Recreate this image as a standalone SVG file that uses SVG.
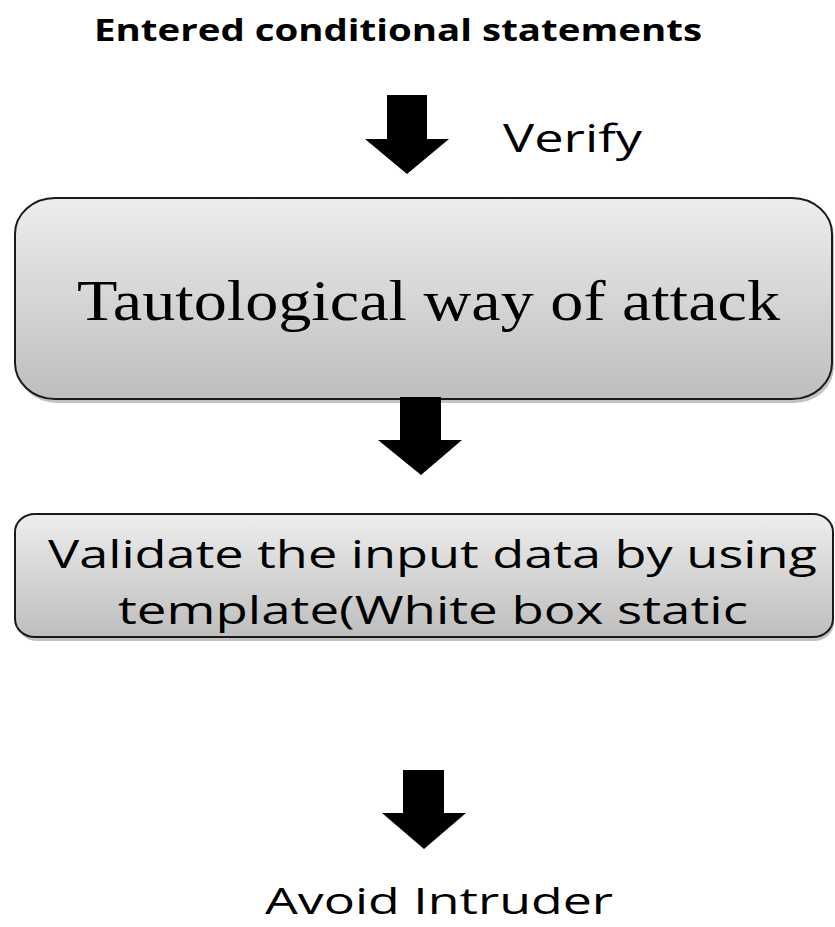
<svg xmlns="http://www.w3.org/2000/svg" width="835" height="927" viewBox="0 0 835 927">
  <style>
    .sans { font-family: "Open Sans", "Noto Sans", "DejaVu Sans", sans-serif; fill: #000; }
    .serif { font-family: "Liberation Serif", "DejaVu Serif", serif; fill: #000; }
    .box { fill: url(#grad); stroke: #1a1a1a; stroke-width: 2; }
    .shadow { fill: #9a9a9a; opacity: 0.6; }
    .arrow { fill: #000; }
  </style>
  <defs>
    <linearGradient id="grad" x1="0" y1="0" x2="0" y2="1">
      <stop offset="0" stop-color="#ededed"/>
      <stop offset="1" stop-color="#bebebe"/>
    </linearGradient>
    <clipPath id="clip2">
      <rect x="16" y="514" width="817" height="123" rx="20" ry="18"/>
    </clipPath>
  </defs>
  <rect width="835" height="927" fill="#fff"/>

  <g id="title">
    <text class="sans" x="94" y="41" font-size="30" font-weight="bold" textLength="608" lengthAdjust="spacingAndGlyphs">Entered conditional statements</text>
  </g>

  <g id="node-tautological">
    <rect class="shadow" x="17" y="201" width="817" height="202" rx="40" ry="36"/>
    <rect class="box" x="15" y="198" width="817" height="201" rx="40" ry="36"/>
    <text class="serif" x="77" y="320" font-size="57" textLength="703" lengthAdjust="spacingAndGlyphs">Tautological way of attack</text>
  </g>

  <g id="node-validate">
    <rect class="shadow" x="17" y="517" width="817" height="124" rx="20" ry="18"/>
    <rect class="box" x="15" y="514" width="818" height="123" rx="20" ry="18"/>
    <g clip-path="url(#clip2)">
      <text class="sans" x="48" y="568" font-size="39" textLength="769" lengthAdjust="spacingAndGlyphs">Validate the input data by using</text>
      <text class="sans" x="118" y="624" font-size="39" textLength="630" lengthAdjust="spacingAndGlyphs">template(White box static</text>
    </g>
  </g>

  <g id="node-avoid">
    <text class="sans" x="265" y="914" font-size="37" textLength="348" lengthAdjust="spacingAndGlyphs">Avoid Intruder</text>
  </g>

  <g id="connectors">
    <polygon class="arrow" points="387,95 427,95 427,139 449,139 407,174 365,139 387,139"/>
    <text class="sans" x="503" y="152" font-size="39" textLength="139" lengthAdjust="spacingAndGlyphs">Verify</text>
    <polygon class="arrow" points="400,397 441,397 441,440 462,440 421,475 378,440 400,440"/>
    <polygon class="arrow" points="403,770 444,770 444,813 466,813 424,849 382,813 403,813"/>
  </g>
</svg>
